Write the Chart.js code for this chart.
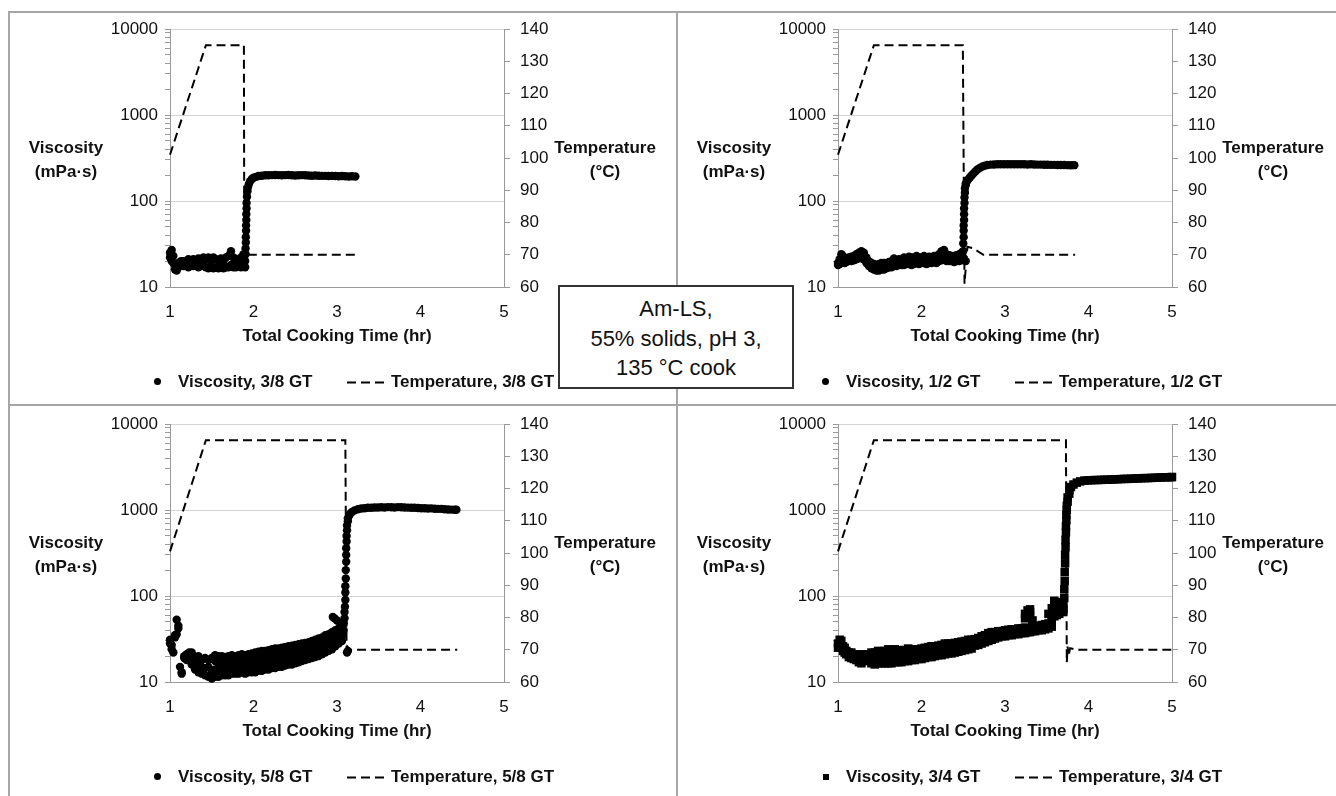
<!DOCTYPE html>
<html>
<head>
<meta charset="utf-8">
<script src="https://cdn.jsdelivr.net/npm/chart.js@4.4.1/dist/chart.umd.min.js"></script>
<style>
  html, body { margin: 0; padding: 0; background: #fff; }
  body { width: 1336px; height: 796px; position: relative; overflow: hidden;
         font-family: 'Liberation Sans', Arial, sans-serif; color: #111; }
  .rule { position: absolute; background: #a6a6a6; }
  .panel { position: absolute; width: 668px; height: 400px; }
  .panel canvas { position: absolute; left: 0; top: 0; }
  .ytitle { position: absolute; width: 140px; top: 136px; text-align: center;
            font-weight: bold; font-size: 17px; line-height: 24px; }
  .leg { position: absolute; top: 370px; font-weight: bold; font-size: 17px;
         line-height: 24px; white-space: nowrap; }
  .dash { position: absolute; left: 347px; top: 381px; width: 40px; height: 3px; }
  .dash svg { display: block; }
  .note { position: absolute; left: 558px; top: 285px; width: 232px; height: 93px;
          border: 2px solid #333; background: #fff; text-align: center;
          font-size: 22px; line-height: 29.5px; padding-top: 7px; box-sizing: content-box; }
</style>
</head>
<body>
<div class="rule" style="left:9px; top:11px; width:1327px; height:2px;"></div>
<div class="rule" style="left:8px; top:11px; width:2px; height:785px;"></div>
<div class="rule" style="left:676px; top:11px; width:2px; height:785px;"></div>
<div class="rule" style="left:9px; top:404px; width:1327px; height:2px;"></div>

<div id="p0" class="panel" style="left:0; top:0;"></div>
<div id="p1" class="panel" style="left:668px; top:0;"></div>
<div id="p2" class="panel" style="left:0; top:395px;"></div>
<div id="p3" class="panel" style="left:668px; top:395px;"></div>

<div class="note">Am-LS,<br>55% solids, pH 3,<br>135 °C cook</div>

<script>
// axis ticks
const timeRange = [1, 5];
const viscTicks = [10, 20, 30, 40, 50, 60, 70, 80, 90,
                   100, 200, 300, 400, 500, 600, 700, 800, 900,
                   1000, 2000, 3000, 4000, 5000, 6000, 7000, 8000, 9000, 10000];
const viscLabels = [10, 100, 1000, 10000];
const tempRange = [60, 140];

// viscosity readings: [time (hr), reading, reading, ...]
const visc38 = [
  [1.00, 22, 25], [1.02, 27, 20], [1.04, 19, 23], [1.06, 16, 18], [1.08, 15.5, 17],
  [1.10, 17, 19], [1.13, 18, 20], [1.16, 17.5, 20], [1.19, 18, 19.5], [1.22, 17, 21],
  [1.25, 18, 20], [1.28, 17.5, 21], [1.31, 18, 20], [1.34, 17, 21.5], [1.37, 17.5, 20],
  [1.40, 18, 22], [1.43, 17, 21], [1.46, 16.5, 22], [1.49, 17, 20], [1.52, 16.5, 22],
  [1.55, 17, 21], [1.58, 16.5, 20], [1.61, 17, 21.5], [1.64, 16.5, 20], [1.67, 17, 22],
  [1.70, 17, 23], [1.73, 18, 26], [1.76, 17, 22], [1.79, 17, 21], [1.82, 17.5, 20],
  [1.85, 17, 22], [1.88, 18, 24], [1.90, 17, 20],
  [1.905, 24, 28], [1.908, 33, 38], [1.911, 45, 52], [1.914, 60, 70], [1.917, 82, 95],
  [1.922, 112], [1.928, 130], [1.935, 145], [1.945, 158], [1.96, 170], [1.98, 180],
  [2.00, 186], [2.03, 191], [2.06, 195], [2.10, 197], [2.14, 199],
  [2.18, 199], [2.22, 200], [2.26, 201], [2.30, 200], [2.34, 199], [2.38, 200], [2.42, 201],
  [2.46, 199], [2.50, 198], [2.54, 199], [2.58, 200], [2.62, 199], [2.66, 198], [2.70, 197],
  [2.74, 198], [2.78, 197], [2.82, 196], [2.86, 196], [2.90, 195], [2.94, 196], [2.98, 195],
  [3.02, 194], [3.06, 195], [3.10, 194], [3.14, 193], [3.18, 194], [3.22, 193]
];
const temp38 = [
  [1.00, 101], [1.43, 135], [1.885, 135], [1.89, 68], [1.90, 66.5], [1.91, 71], [1.95, 70], [3.22, 70]
];

const visc12 = [
  [1.00, 19, 18], [1.02, 21, 18.5], [1.04, 24, 20], [1.06, 23, 19.5], [1.08, 21, 19],
  [1.10, 21, 19.5], [1.13, 22, 20], [1.16, 22.5, 20], [1.19, 23, 20.5], [1.22, 24, 21],
  [1.25, 25, 21.5], [1.28, 26, 22], [1.31, 25, 21], [1.34, 22, 19], [1.37, 20, 17.5],
  [1.40, 19, 16.5], [1.43, 18.5, 16], [1.46, 18, 15.5], [1.49, 18.5, 15.5], [1.52, 19, 16],
  [1.55, 19, 16], [1.58, 18.5, 16.5], [1.61, 19.5, 17], [1.64, 20, 17], [1.67, 21.5, 17.5],
  [1.70, 20, 17.5], [1.73, 21, 18], [1.76, 20.5, 18], [1.79, 22, 18], [1.82, 21.5, 18.5],
  [1.85, 22.5, 18.5], [1.88, 22, 18], [1.91, 22, 18.5], [1.94, 23, 19], [1.97, 22, 18.5],
  [2.00, 22, 19], [2.03, 23, 19], [2.06, 21.5, 18.5], [2.09, 22.5, 19], [2.12, 22, 19],
  [2.15, 23, 19.5], [2.18, 22, 19], [2.21, 24, 20], [2.24, 26, 20.5], [2.27, 27, 21],
  [2.30, 24, 20], [2.33, 23.5, 20], [2.36, 23, 20], [2.39, 23, 19.5], [2.42, 23.5, 20],
  [2.45, 24, 20], [2.48, 25, 20.5],
  [2.50, 22, 26, 32], [2.505, 38, 45, 52], [2.51, 60, 70, 82], [2.515, 95, 110], [2.52, 125, 140],
  [2.53, 20, 152, 160], [2.545, 170], [2.56, 178], [2.58, 188], [2.60, 198], [2.62, 208],
  [2.645, 220], [2.67, 232], [2.70, 243], [2.73, 252], [2.76, 258], [2.79, 262],
  [2.83, 265], [2.87, 266], [2.91, 267], [2.95, 267], [2.99, 268], [3.03, 268], [3.07, 267],
  [3.11, 268], [3.15, 268], [3.19, 267], [3.23, 267], [3.27, 266], [3.31, 267], [3.35, 266],
  [3.39, 265], [3.43, 265], [3.47, 264], [3.51, 264], [3.55, 263], [3.59, 263], [3.63, 262],
  [3.67, 262], [3.71, 262], [3.75, 261], [3.79, 260], [3.83, 261]
];
const temp12 = [
  [1.00, 101], [1.43, 135], [2.495, 135], [2.515, 61], [2.55, 72.5], [2.62, 72], [2.74, 70], [3.84, 70]
];

const visc58 = [
  [1.00, 31, 28], [1.02, 27, 24], [1.04, 22], [1.06, 33, 35], [1.08, 36, 53], [1.10, 45, 42],
  [1.12, 15], [1.14, 13, 12.5], [1.17, 19, 20], [1.20, 21, 18], [1.23, 22, 19], [1.26, 20, 16, 22],
  [1.30, 14, 17, 19], [1.34, 13, 16, 20], [1.38, 12.5, 15, 18], [1.42, 12, 14.5, 19],
  [1.46, 11.5, 15, 18], [1.50, 11, 13.5, 19], [1.54, 11.5, 14, 17.5, 20.5],
  [1.58, 11.5, 13.5, 16.5, 20], [1.62, 12, 14, 17, 20], [1.66, 12, 14.5, 17, 19.5],
  [1.70, 12, 14, 17, 20], [1.74, 12.5, 14.5, 17, 20.5], [1.78, 12.5, 15, 17.5, 20],
  [1.82, 12.5, 14.5, 17.5, 20.5], [1.86, 13, 15, 18, 21], [1.90, 12.5, 15, 17.5, 20.5],
  [1.94, 13, 15.5, 18, 21], [1.98, 13, 15, 18.5, 21.5], [2.02, 13, 15.5, 18.5, 22],
  [2.06, 13.5, 16, 19, 22.5], [2.10, 13.5, 16, 19, 23], [2.14, 14, 16.5, 19.5, 23],
  [2.18, 14, 16.5, 19.5, 23.5], [2.22, 14.5, 17, 20, 24], [2.26, 14.5, 17, 20.5, 24.5],
  [2.30, 15, 17.5, 20.5, 24.5], [2.34, 15, 18, 21, 25], [2.38, 15.5, 18, 21.5, 25.5],
  [2.42, 16, 18.5, 22, 26], [2.46, 16, 19, 22.5, 26.5], [2.50, 16.5, 19, 22.5, 27],
  [2.54, 17, 19.5, 23, 27.5], [2.58, 17.5, 20, 23.5, 28], [2.62, 18, 20.5, 24, 28.5],
  [2.66, 18.5, 21, 24.5, 29], [2.70, 19, 21.5, 25, 30], [2.74, 19.5, 22.5, 26, 31],
  [2.78, 20, 23, 27, 32], [2.82, 21, 24, 28, 33], [2.86, 22, 25, 29, 35],
  [2.90, 23, 26, 30, 36], [2.94, 24, 28, 33, 38], [2.95, 57], [2.97, 55],
  [2.98, 26, 30, 35, 40], [3.00, 52], [3.02, 28, 32, 37, 42], [3.04, 45], [3.06, 30, 34, 38, 44],
  [3.08, 40, 48], [3.09, 55, 65], [3.095, 75], [3.10, 90, 110, 130], [3.105, 160, 200],
  [3.11, 250, 300, 360], [3.115, 430, 500], [3.12, 22, 580, 660], [3.13, 23, 740, 800],
  [3.145, 860], [3.16, 910], [3.18, 950], [3.21, 990], [3.25, 1020], [3.29, 1040], [3.33, 1050],
  [3.37, 1060], [3.41, 1060], [3.45, 1070], [3.49, 1070], [3.53, 1075], [3.57, 1070], [3.61, 1080],
  [3.65, 1075], [3.69, 1070], [3.73, 1080], [3.77, 1075], [3.81, 1070], [3.85, 1065], [3.89, 1060],
  [3.93, 1060], [3.97, 1055], [4.01, 1050], [4.05, 1050], [4.09, 1040], [4.13, 1045], [4.17, 1035],
  [4.21, 1030], [4.25, 1030], [4.29, 1020], [4.33, 1015], [4.37, 1010], [4.41, 1005], [4.43, 1005]
];
const temp58 = [
  [1.00, 100.5], [1.43, 135], [3.10, 135], [3.115, 68.5], [3.125, 71], [3.16, 70], [4.44, 70]
];

const visc34 = [
  [1.00, 28, 25], [1.02, 31, 27], [1.04, 30, 26], [1.06, 26, 23], [1.08, 25, 22], [1.10, 23, 21],
  [1.13, 22, 19.5], [1.16, 22, 19], [1.19, 21, 18.5], [1.22, 20, 18], [1.25, 17, 19.5],
  [1.28, 16.5, 19, 21], [1.31, 18, 20], [1.34, 17.5, 20.5], [1.37, 18, 21],
  [1.40, 16.5, 19, 22], [1.44, 16, 19, 22], [1.48, 16.5, 19.5, 23], [1.52, 16.5, 19.5, 22.5],
  [1.56, 16.5, 20, 23], [1.60, 16.5, 20, 24], [1.64, 16.5, 20, 23.5], [1.68, 17, 20.5, 24],
  [1.72, 17, 20.5, 23], [1.76, 17, 20.5, 23.5], [1.80, 17.5, 21, 23.5], [1.84, 17.5, 21, 24.5],
  [1.88, 18, 21.5, 24], [1.92, 18, 21.5, 23.5], [1.96, 18.5, 21.5, 24], [2.00, 18.5, 22, 24.5],
  [2.04, 19, 22.5, 25], [2.08, 19.5, 22.5, 25.5], [2.12, 19.5, 23, 26], [2.16, 20, 23.5, 26],
  [2.20, 20.5, 23.5, 26.5], [2.24, 20.5, 24, 27], [2.28, 21, 24.5, 28], [2.32, 21.5, 25, 28],
  [2.36, 21.5, 25.5, 28], [2.40, 22, 25.5, 28.5], [2.44, 22.5, 26, 29], [2.48, 23, 26.5, 29.5],
  [2.52, 23.5, 27, 30], [2.56, 24, 27.5, 31], [2.60, 24.5, 28, 31], [2.64, 26.5, 29, 31.5],
  [2.68, 27, 30, 32.5], [2.72, 28, 31, 34], [2.76, 29, 32, 35], [2.80, 30, 33, 37],
  [2.84, 31, 34, 38], [2.88, 32, 35, 38], [2.92, 33, 36, 39], [2.96, 34, 36.5, 39],
  [3.00, 34, 37, 40], [3.04, 35, 37.5, 40.5], [3.08, 35, 38, 41], [3.12, 36, 38.5, 41],
  [3.16, 36, 39, 42], [3.20, 37, 39.5, 42], [3.24, 37, 40, 43, 55, 62], [3.27, 38, 40, 60, 68],
  [3.30, 38, 41, 58, 65, 70], [3.33, 39, 41, 44, 52], [3.36, 39, 42, 44.5], [3.40, 40, 42.5, 45],
  [3.44, 40, 43, 46], [3.48, 41, 44, 47], [3.52, 42, 45, 48, 62], [3.56, 44, 50, 60, 72],
  [3.59, 58, 68, 80, 88], [3.62, 60, 70, 78, 85], [3.65, 62, 72, 80], [3.68, 65, 75, 82], [3.70, 70, 80],
  [3.71, 95, 120], [3.715, 150, 190], [3.72, 240, 300], [3.725, 370, 450], [3.73, 550, 650],
  [3.735, 760, 880], [3.74, 1000, 1120], [3.75, 1250, 1400], [3.77, 1550, 1700], [3.79, 1850],
  [3.82, 1980], [3.86, 2080], [3.90, 2150], [3.95, 2200],
  [3.99, 2210], [4.03, 2220], [4.07, 2230], [4.11, 2230], [4.15, 2240], [4.19, 2250], [4.23, 2250],
  [4.27, 2260], [4.31, 2270], [4.35, 2280], [4.39, 2290], [4.43, 2300], [4.47, 2300], [4.51, 2310],
  [4.55, 2320], [4.59, 2330], [4.63, 2340], [4.67, 2350], [4.71, 2350], [4.75, 2360], [4.79, 2370],
  [4.83, 2380], [4.87, 2390], [4.91, 2400], [4.95, 2400], [4.99, 2410], [5.00, 2420]
];
const temp34 = [
  [1.00, 100.5], [1.43, 135], [3.73, 135], [3.74, 66], [3.75, 71], [3.76, 68], [3.78, 70.5], [3.85, 70], [5.00, 70]
];

const panels = [
  { id: 'p0', gt: '3/8 GT', visc: visc38, temp: temp38, marker: 'circle' },
  { id: 'p1', gt: '1/2 GT', visc: visc12, temp: temp12, marker: 'circle' },
  { id: 'p2', gt: '5/8 GT', visc: visc58, temp: temp58, marker: 'circle' },
  { id: 'p3', gt: '3/4 GT', visc: visc34, temp: temp34, marker: 'rect' }
];

const axisColor = '#9a9a9a';
const gridColor = '#d4d4d4';
Chart.defaults.font.family = "'Liberation Sans', Arial, sans-serif";
Chart.defaults.font.size = 17;
Chart.defaults.color = '#111';

const toPoints = rows => rows.flatMap(r => r.slice(1).map(v => ({ x: r[0], y: v })));

function addEl(parent, tag, cls, style, html) {
  const el = document.createElement(tag);
  if (cls) el.className = cls;
  el.style.cssText = style;
  if (html) el.innerHTML = html;
  parent.appendChild(el);
  return el;
}

panels.forEach(p => {
  const box = document.getElementById(p.id);
  const canvas = document.createElement('canvas');
  canvas.width = 668;
  canvas.height = 400;
  box.appendChild(canvas);

  // axis titles and legend
  addEl(box, 'div', 'ytitle', 'left:-4px;', 'Viscosity<br>(mPa·s)');
  addEl(box, 'div', 'ytitle', 'left:535px;', 'Temperature<br>(°C)');
  if (p.marker === 'rect') {
    addEl(box, 'div', '', 'position:absolute;left:155px;top:379px;width:6px;height:6px;background:#000;');
  } else {
    addEl(box, 'div', '', 'position:absolute;left:154px;top:378px;width:7px;height:7px;border-radius:50%;background:#000;');
  }
  addEl(box, 'div', 'leg', 'left:178px;', 'Viscosity, ' + p.gt);
  addEl(box, 'div', 'dash', '',
    '<svg width="40" height="3"><line x1="0" y1="1.5" x2="40" y2="1.5" stroke="#000" stroke-width="2" stroke-dasharray="9 5"/></svg>');
  addEl(box, 'div', 'leg', 'left:391px;', 'Temperature, ' + p.gt);

  new Chart(canvas, {
    type: 'scatter',
    data: {
      datasets: [
        {
          label: 'Viscosity, ' + p.gt,
          data: toPoints(p.visc),
          yAxisID: 'y',
          pointStyle: p.marker,
          pointRadius: p.marker === 'rect' ? 6 : 4.2,
          backgroundColor: '#000',
          borderColor: '#000',
          borderWidth: 0,
          clip: false,
          order: 1
        },
        {
          label: 'Temperature, ' + p.gt,
          data: toPoints(p.temp),
          yAxisID: 'y2',
          showLine: true,
          borderColor: '#000',
          borderWidth: 2,
          borderDash: [9, 5],
          pointRadius: 0,
          tension: 0,
          clip: false,
          order: 0
        }
      ]
    },
    options: {
      responsive: false,
      animation: false,
      events: [],
      layout: { padding: { left: 100, right: 104, top: 29, bottom: 53 } },
      plugins: { legend: { display: false }, tooltip: { enabled: false } },
      scales: {
        x: {
          type: 'linear',
          min: timeRange[0],
          max: timeRange[1],
          ticks: { stepSize: 1, padding: 15 },
          grid: { display: false, drawTicks: false },
          border: { color: axisColor, width: 1 },
          title: {
            display: true,
            text: 'Total Cooking Time (hr)',
            font: { weight: 'bold', size: 17 },
            color: '#111',
            padding: 0
          },
          afterFit: s => { s.height = 60; }
        },
        y: {
          type: 'logarithmic',
          position: 'left',
          min: viscTicks[0],
          max: viscTicks[viscTicks.length - 1],
          afterBuildTicks: s => { s.ticks = viscTicks.map(v => ({ value: v })); },
          ticks: {
            autoSkip: false,
            padding: 7,
            callback: v => (viscLabels.includes(v) ? String(v) : '')
          },
          grid: {
            color: c => (c.tick && c.tick.value > 10 && viscLabels.includes(c.tick.value)) ? gridColor : 'rgba(0,0,0,0)',
            tickColor: axisColor,
            tickLength: 5
          },
          border: { color: axisColor, width: 1 },
          afterFit: s => { s.width = 70; }
        },
        y2: {
          type: 'linear',
          position: 'right',
          min: tempRange[0],
          max: tempRange[1],
          ticks: { stepSize: 10, padding: 10 },
          grid: { drawOnChartArea: false, tickColor: axisColor, tickLength: 6 },
          border: { color: axisColor, width: 1 },
          afterFit: s => { s.width = 60; }
        }
      }
    }
  });
});
</script>
</body>
</html>
